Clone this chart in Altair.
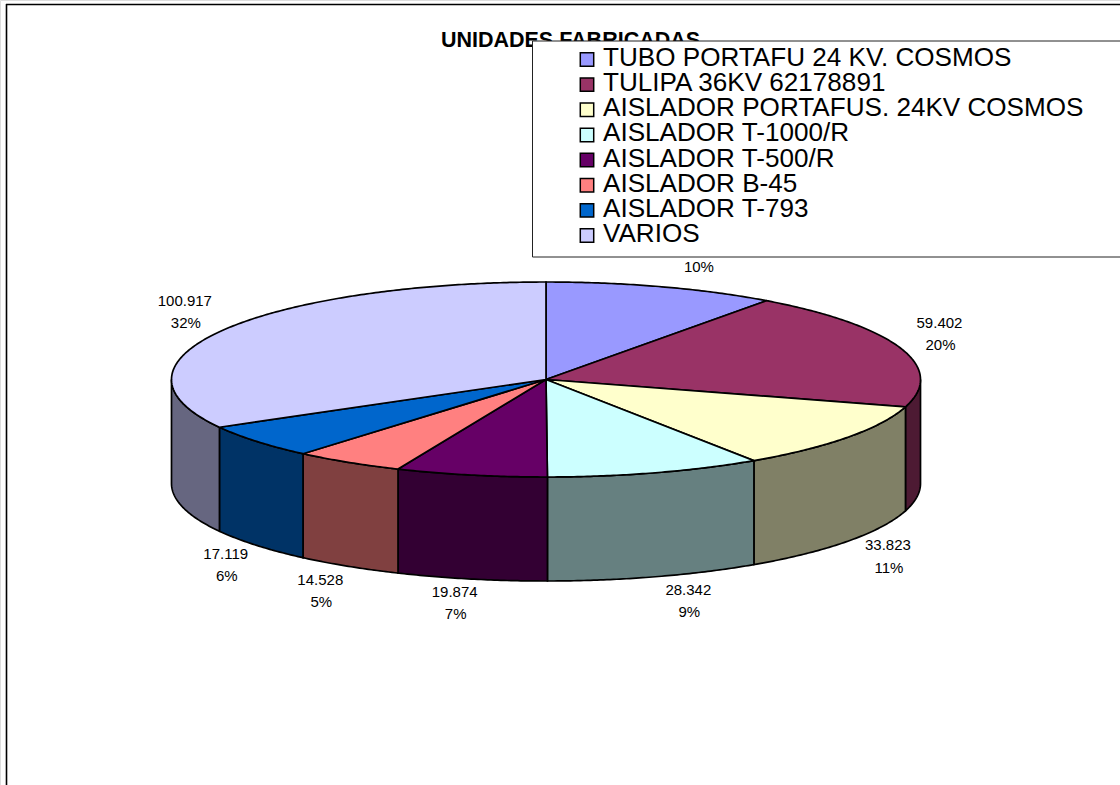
import math
import altair as alt

# Units produced per product
items = ["TUBO PORTAFU 24 KV. COSMOS", "TULIPA 36KV 62178891", "AISLADOR PORTAFUS. 24KV COSMOS",
         "AISLADOR T-1000/R", "AISLADOR T-500/R", "AISLADOR B-45", "AISLADOR T-793", "VARIOS"]
units = [30500, 59402, 33823, 28342, 19874, 14528, 17119, 100917]
unit_labels = ["30.500", "59.402", "33.823", "28.342", "19.874", "14.528", "17.119", "100.917"]
pct_labels = ["10%", "20%", "11%", "9%", "7%", "5%", "6%", "32%"]
top_colors = ["#9999FF", "#993366", "#FFFFCC", "#CCFFFF", "#660066", "#FF8080", "#0066CC", "#CCCCFF"]
side_colors = ["#4D4D80", "#4D1A33", "#808066", "#668080", "#330033", "#804040", "#003366", "#666680"]

# Drum geometry, in chart pixels
CX, CY, RX, RY, DEPTH = 546.0, 379.5, 374.5, 97.5, 104.0
# Where each label block sits relative to the rim point at the middle of its slice
label_shift = [(36, -31), (39, -14), (40, 15.5), (33, 24), (-16.5, 24), (-28, 24.5), (-31, 19.5), (-38, -18)]
LINE_GAP = 22.5


def rim(angle, drop=0.0):
    """Point on the ellipse; angle in degrees clockwise from twelve o'clock."""
    a = math.radians(angle)
    return [CX + RX * math.sin(a), CY - RY * math.cos(a) + drop]


def sweep(a0, a1):
    n = max(2, int(abs(a1 - a0)) * 2)
    return [a0 + (a1 - a0) * i / n for i in range(n + 1)]


total = sum(units)
tops, sides, text_rows = [], [], []
start = 0.0
for i, v in enumerate(units):
    end = start + v / total * 360
    ring = [rim(a) for a in sweep(start, end)]
    tops.append({"type": "Feature",
                 "properties": {"item": items[i]},
                 "geometry": {"type": "Polygon", "coordinates": [[[CX, CY]] + ring + [[CX, CY]]]}})
    # Only the near half of the drum wall is visible
    lo, hi = max(start, 90.0), min(end, 270.0)
    if lo < hi:
        upper = [rim(a) for a in sweep(lo, hi)]
        lower = [rim(a, DEPTH) for a in sweep(hi, lo)]
        sides.append({"type": "Feature",
                      "properties": {"side": side_colors[i]},
                      "geometry": {"type": "Polygon", "coordinates": [upper + lower + [upper[0]]]}})
    mid = (start + end) / 2
    px, py = rim(mid, DEPTH if 90 < mid < 270 else 0.0)
    lx, ly = px + label_shift[i][0], py + label_shift[i][1]
    text_rows.append({"t": unit_labels[i], "lon": lx, "lat": ly - LINE_GAP / 2})
    text_rows.append({"t": pct_labels[i], "lon": lx + 1, "lat": ly + LINE_GAP / 2})
    start = end

projection = dict(type="identity", scale=1, translate=[0, 0])
FONT = "Liberation Sans"
item_color = alt.Scale(domain=items, range=top_colors)

frame_top = alt.Chart(alt.Data(values=[{}])).mark_rule(color="black", strokeWidth=1.6).encode(
    x=alt.value(6), x2=alt.value(1130), y=alt.value(4.5))
frame_left = alt.Chart(alt.Data(values=[{}])).mark_rule(color="black", strokeWidth=1.6).encode(
    x=alt.value(6.5), y=alt.value(4), y2=alt.value(800))

wall = alt.Chart(alt.Data(values=sides)).mark_geoshape(stroke="black", strokeWidth=1.7).encode(
    fill=alt.Fill("properties.side:N", scale=None)).project(**projection)

face = alt.Chart(alt.Data(values=tops)).mark_geoshape(stroke="black", strokeWidth=1.7).encode(
    fill=alt.Fill("properties.item:N", scale=item_color, legend=None)
).project(**projection)

labels = alt.Chart(alt.Data(values=text_rows)).mark_text(
    font=FONT, fontSize=15, color="black", align="center", baseline="middle"
).encode(longitude="lon:Q", latitude="lat:Q", text="t:N").project(**projection)

heading = alt.Chart(alt.Data(values=[{"t": "UNIDADES FABRICADAS"}])).mark_text(
    font=FONT, fontSize=21.5, fontWeight="bold", color="black", align="center", baseline="alphabetic"
).encode(x=alt.value(570.5), y=alt.value(46.5), text="t:N")

# Key panel: a white box with one swatch and one caption per product
legend_box = alt.Chart(alt.Data(values=[{}])).mark_rect(
    fill="white", stroke="#222222", strokeWidth=1
).encode(x=alt.value(532.5), x2=alt.value(1130), y=alt.value(41), y2=alt.value(257))

key_rows = alt.Data(values=[{"item": name} for name in items])
key_y = alt.Y("item:N", axis=None,
              scale=alt.Scale(type="point", domain=items, range=[59.5, 235.5], padding=0))

key_swatch = alt.Chart(key_rows).mark_square(
    size=180, stroke="black", strokeWidth=1.5, opacity=1
).encode(x=alt.value(587), y=key_y,
         fill=alt.Fill("item:N", scale=item_color, legend=None))

key_text = alt.Chart(key_rows).mark_text(
    font=FONT, fontSize=26.1, color="black", align="left", baseline="alphabetic", dy=6.5
).encode(x=alt.value(603), y=key_y, text="item:N")

chart = alt.layer(frame_top, frame_left, wall, face, labels, heading,
                  legend_box, key_swatch, key_text).properties(
    width=1120, height=785, padding=0, autosize=alt.AutoSizeParams(type="none")
).configure_view(stroke=None).configure(background="white")

chart.save("out.html", embed_options={"renderer": "svg", "actions": False})
